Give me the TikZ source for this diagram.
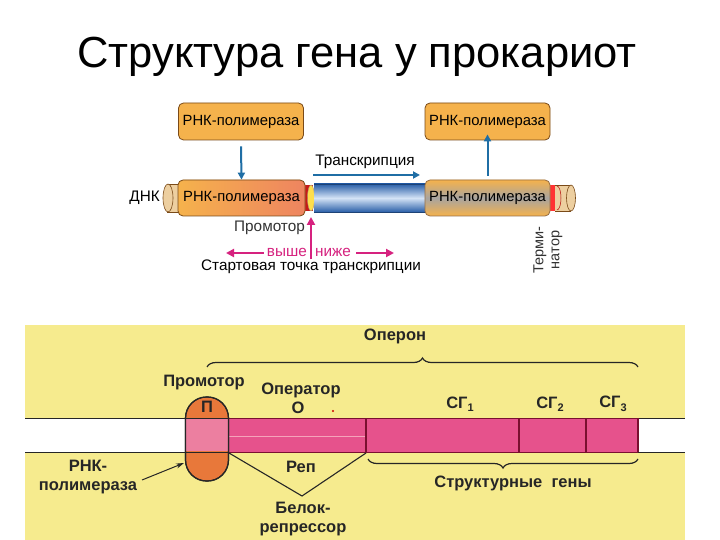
\documentclass[tikz,border=0pt]{standalone}
\usepackage{fontspec}
\setmainfont{Liberation Sans}
\usetikzlibrary{arrows.meta,decorations.pathreplacing}
\definecolor{polyor}{HTML}{F5B24C}
\definecolor{polyedge}{HTML}{7A4A18}
\definecolor{salmon}{HTML}{EE8460}
\definecolor{beige}{HTML}{EDCFA0}
\definecolor{dnablue}{HTML}{2A5FA8}
\definecolor{dnalight}{HTML}{D4E3F6}
\definecolor{arrblue}{HTML}{1F6EA5}
\definecolor{magen}{HTML}{D6227F}
\definecolor{panel}{HTML}{F6EB8E}
\definecolor{opink}{HTML}{E6528C}
\definecolor{pinkedge}{HTML}{7A1030}
\definecolor{ovalor}{HTML}{E8783A}
\definecolor{ovalpink}{HTML}{EC7FA0}
\definecolor{polygray}{HTML}{A8A4A0}
\newcommand{\sgsub}[1]{\raisebox{-3.5pt}{\fontsize{11}{11}\selectfont #1}}
\tikzset{
  polybox/.style={draw=polyedge, line width=0.8pt, rounded corners=5pt, fill=polyor,
    minimum width=125pt, minimum height=37pt, inner sep=0pt,
    font=\fontsize{14.8}{16}\selectfont},
  toplabel/.style={font=\fontsize{15.3}{17}\selectfont, inner sep=0pt},
  botlabel/.style={font=\fontsize{16.5}{19}\selectfont\bfseries, inner sep=0pt, text=black!85},
  bluearr/.style={draw=arrblue, line width=2pt, -{Triangle[length=7pt,width=7pt]}},
  magarr/.style={draw=magen, line width=2.6pt, -{Triangle[length=8pt,width=8pt]}},
}
\begin{document}
\begin{tikzpicture}[x=1pt,y=-1pt]
\path[use as bounding box, fill=white] (0,0) rectangle (720,540);

% title
\node[font=\fontsize{43.5}{48}\selectfont, inner sep=0pt] (title) at (357,57) {Структура гена у прокариот};

% ---------- top diagram ----------
\node[polybox] (polyA) at (241,121.5) {РНК-полимераза};
\node[polybox] (polyB) at (487.5,121.5) {РНК-полимераза};

% left DNA cap
\fill[beige] (167,184) rectangle (182,212);
\draw[polyedge, line width=0.6pt] (167,184) -- (182,184) (167,212) -- (182,212);
\draw[fill=beige, draw=polyedge, line width=0.6pt] (168,198) ellipse [x radius=5pt, y radius=14pt];
% promoter band
\fill[red!75!black!90] (302,185) rectangle (313,211);
\draw[fill=yellow!70!orange!70, draw=polyedge!60, line width=0.4pt] (311,198) ellipse [x radius=3.5pt, y radius=13pt];
% blue cylinder
\shade[top color=dnablue, bottom color=dnablue, middle color=dnalight] (314,184) rectangle (428,212);
\draw[dnablue!70!black, line width=0.5pt] (314,184) -- (428,184) (314,212) -- (428,212);
% right cap
\fill[red!80!white] (543,185) rectangle (557,211);
\fill[beige] (555,185) rectangle (571,211);
\draw[polyedge, line width=0.6pt] (555,185) -- (571,185) (555,211) -- (571,211);
\draw[fill=beige, draw=polyedge, line width=0.6pt] (571,198) ellipse [x radius=4.5pt, y radius=13pt];
\draw[red!70!black, line width=0.5pt] (557,186) arc[start angle=90, end angle=-90, x radius=4pt, y radius=12pt];

% polymerases on DNA
\node[polybox, left color=polyor, right color=salmon, minimum width=127pt, minimum height=36pt] (polyC) at (241.5,198) {РНК-полимераза};
\node[polybox, top color=polyor, bottom color=polyor, middle color=polygray, draw=polyedge!80, minimum width=125pt, minimum height=36pt] (polyD) at (487.5,198) {РНК-полимераза};

\node[toplabel, anchor=east] (dnk) at (160,198) {ДНК};

% transcription arrow
\node[toplabel] (transc) at (365,162) {Транскрипция};
\coordinate (tA) at (313,175);
\coordinate (tB) at (420,175);
\draw[bluearr] (tA) -- (tB);
\draw[bluearr] (polyA.south) ++(0,6) coordinate (dA) -- (polyC.north);
\draw[bluearr] (polyD.north) ++(0,-4) coordinate (uA) -- ([yshift=6pt]polyB.south);

% promoter and start point
\node[toplabel, text=black!80, anchor=east] (prom) at (305,228) {Промотор};
\coordinate (startpt) at (311,217);
\coordinate (startbase) at (311,259);
\draw[magarr] (startbase) -- (startpt);
\node[toplabel, text=magen, anchor=east] (up) at (307,252) {выше};
\node[toplabel, text=magen, anchor=west] (down) at (315,252) {ниже};
\coordinate (upEnd) at (226,253);
\coordinate (downEnd) at (394,253);
\draw[magarr, line width=2.4pt] ([xshift=-3pt]up.west |- 0,253) -- (upEnd);
\draw[magarr, line width=2.4pt] ([xshift=5pt]down.east |- 0,253) -- (downEnd);
\node[toplabel] (startlbl) at (311,267) {Стартовая точка транскрипции};
\node[toplabel, rotate=90, align=center, text=black!80, font=\fontsize{14.5}{16}\selectfont] (term) at (548,250) {Терми-\\натор};

% ---------- bottom panel ----------
\fill[panel] (25,325) rectangle (685,540);
\fill[white] (25,418) rectangle (685,452);
\fill[opink] (200,418) rectangle (638,452);
\draw[pink!60!white, line width=0.6pt, opacity=0.6] (228,436) -- (366,436);
\draw[black!85, line width=1pt] (25,418) -- (685,418) (25,452) -- (685,452);
\draw[pinkedge, line width=1pt] (228,418) -- (638,418) (228,452) -- (638,452);
\draw[pinkedge, line width=1.3pt] (366,418) -- (366,452) (519,418) -- (519,452) (586,418) -- (586,452) (638,418) -- (638,452);

% promoter oval
\node[draw=black!85, line width=1.2pt, fill=ovalor, rounded corners=21pt, minimum width=43pt, minimum height=84pt, inner sep=0pt] (oval) at (207,439) {};
\fill[ovalpink] (186,419) rectangle (228,451);
\draw[black!85, line width=1.2pt, rounded corners=21pt] (185.5,397) rectangle (228.5,481);
\draw[black!85, line width=1pt] (186,418) -- (228,418);
\draw[black!85, line width=1pt] (186,452) -- (228,452);

\node[botlabel] (pi) at (207,407) {П};
\node[botlabel] (promB) at (204,383) {Промотор};
\node[botlabel] (oper) at (301,390) {Оператор};
\node[botlabel] (O) at (298,408) {О};
\fill[red!80!black] (333,411) circle (1.2pt);
\node[botlabel] (operon) at (395,336) {Оперон};
\node[botlabel] (sg1) at (460,404) {СГ\sgsub{1}};
\node[botlabel] (sg2) at (550,404) {СГ\sgsub{2}};
\node[botlabel] (sg3) at (613,404) {СГ\sgsub{3}};
\node[botlabel] (rep) at (301,467) {Реп};
\node[botlabel, align=center] (repr) at (303,519) {Белок-\\репрессор};
\node[botlabel, align=center] (rnapol) at (88,477) {РНК-\\полимераза};
\node[botlabel] (strgenes) at (513,483) {Структурные \ гены};

% braces
\coordinate (brA) at (207,367);
\coordinate (brB) at (638,367);
\draw[black!85, line width=1.2pt, decorate, decoration={brace, amplitude=9pt}] (brA) -- (brB);
\coordinate (brC) at (368,459);
\coordinate (brD) at (638,459);
\draw[black!85, line width=1.2pt, decorate, decoration={brace, mirror, amplitude=9pt}] (brC) -- (brD);

% repressor lines
\coordinate (vL) at (229,453);
\coordinate (vM) at (302,496);
\coordinate (vR) at (366,453);
\draw[black!85, line width=1.1pt] (vL) -- (vM) -- (vR);

% RNA polymerase arrow
\coordinate (rpA) at (142,480);
\coordinate (rpB) at (184,463);
\draw[black!85, line width=1pt, -{Stealth[length=8pt,width=5pt]}] (rpA) -- (rpB);
\end{tikzpicture}
\end{document}
